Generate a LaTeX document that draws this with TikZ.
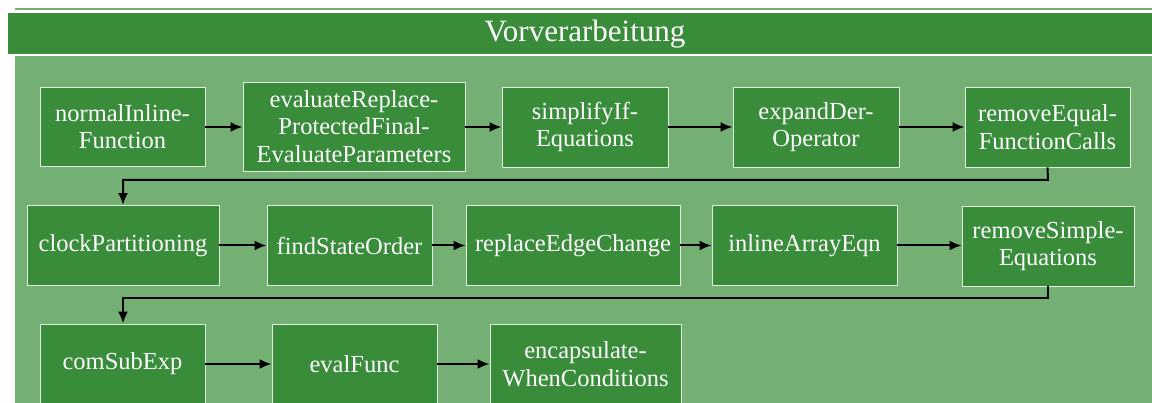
\documentclass[tikz,border=0pt]{standalone}
\usepackage{fontspec}
\setmainfont{Liberation Serif}
\usetikzlibrary{arrows.meta}
\definecolor{darkg}{RGB}{56,140,58}
\definecolor{lightg}{RGB}{116,176,116}
\definecolor{edgew}{RGB}{225,240,225}
\tikzset{
  box/.style={draw=edgew, line width=0.9pt, fill=darkg, text=white, align=center, inner sep=0pt,
    font=\fontsize{24.5}{27.5}\selectfont},
  flow/.style={draw=black, line width=2pt, -{Latex[length=12pt,width=10pt]}},
}
\begin{document}
\begin{tikzpicture}[x=1pt,y=-1pt]
\useasboundingbox (0,0) rectangle (1152,403);
\clip (0,0) rectangle (1152,403);
% panel and header
\fill[lightg] (15,8) rectangle (1160,420);
\fill[white] (8,10.5) rectangle (1160,56);
\node[fill=darkg, minimum width=1152pt, minimum height=41pt, inner sep=0pt, anchor=north west] (hdr) at (8,13) {};
\node[text=white, font=\fontsize{31}{36}\selectfont, inner sep=0pt] (title) at (585,34) {Vorverarbeitung};
% row 1
\node[box, minimum width=165pt, minimum height=79pt] (a) at (122.5,126.5) {normalInline-\\Function};
\node[box, minimum width=222pt, minimum height=89pt] (b) at (354,126.5) {evaluateReplace-\\ProtectedFinal-\\EvaluateParameters};
\node[box, minimum width=166pt, minimum height=80pt] (c) at (585,127) {simplifyIf-\\Equations};
\node[box, minimum width=166pt, minimum height=80pt] (d) at (816,127) {expandDer-\\Operator};
\node[box, minimum width=165pt, minimum height=80pt] (e) at (1047.5,127) {removeEqual-\\FunctionCalls};
% row 2
\node[box, minimum width=192pt, minimum height=80pt] (f) at (123,245.5) {clockPartitioning};
\node[box, minimum width=165pt, minimum height=80pt] (g) at (349.5,245.5) {findStateOrder};
\node[box, minimum width=214pt, minimum height=80pt] (h) at (573,245.5) {replaceEdgeChange};
\node[box, minimum width=185pt, minimum height=80pt] (i) at (804.5,245.5) {inlineArrayEqn};
\node[box, minimum width=172pt, minimum height=80pt] (j) at (1048,246) {removeSimple-\\Equations};
% row 3
\node[box, minimum width=165pt, minimum height=80pt] (k) at (122.5,364) {comSubExp};
\node[box, minimum width=165pt, minimum height=80pt] (l) at (354.5,364) {evalFunc};
\node[box, minimum width=191pt, minimum height=80pt] (m) at (585.5,364) {encapsulate-\\WhenConditions};
% coordinates for bends
\coordinate (e1) at (1048,180);
\coordinate (e2) at (123,180);
\coordinate (j1) at (1048,298);
\coordinate (j2) at (123,298);
% connectors
\draw[flow] (a.east |- 0,127) -- (b.west |- 0,127);
\draw[flow] (b.east |- 0,127) -- (c.west |- 0,127);
\draw[flow] (c) -- (d);
\draw[flow] (d) -- (e);
\draw[flow] (e.south) -- (e1) -- (e2) -- (f.north);
\draw[flow] (f) -- (g);
\draw[flow] (g) -- (h);
\draw[flow] (h) -- (i);
\draw[flow] (i) -- (i.east -| j.west);
\draw[flow] (j.south) -- (j1) -- (j2) -- (k.north -| j2);
\draw[flow] (k) -- (l);
\draw[flow] (l) -- (m);
\end{tikzpicture}
\end{document}
